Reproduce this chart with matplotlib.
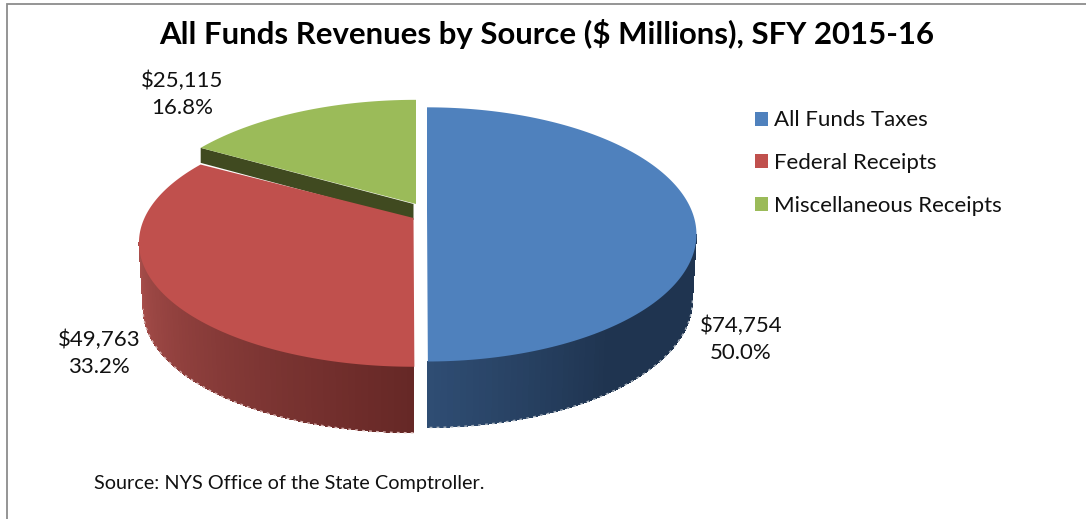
import numpy as np
import matplotlib
matplotlib.use('Agg')
import matplotlib.pyplot as plt
from matplotlib.colors import to_rgb
from matplotlib.patches import Patch

plt.rcParams['font.family']=['Lato','DejaVu Sans']

categories=['All Funds Taxes','Federal Receipts','Miscellaneous Receipts']
revenues=[74754,49763,25115]
percents=[50.0,33.2,16.8]
colors=['#4F81BD','#C0504D','#9BBB59']

# pixel layout: the slices are pulled apart, so each has its own apex/size
k=0.2
apex=[(427,209),(413.5,218),(416,204)]
size=[(264,122),(269,119),(272,125)]
rim_depth=66
rim_from=['#2F4D73','#A84E4B',None]
rim_to=['#1F3450','#662826',None]
rim_edge=['#A9B3BE','#D8B4B2',None]
label_xy=[(741,339),(99,353),(182,94)]

def project(theta,ap,sz,shrink=1.0,drop=0):
    # perspective view of a unit circle, apex stays at ap
    u,v=np.cos(theta),np.sin(theta)
    d=1+k*v
    return ap[0]+shrink*sz[0]*u/d, ap[1]-sz[1]*v/d+drop

fig,ax=plt.subplots(figsize=(10.86,5.19),dpi=100)
ax.set_position([0,0,1,1])
ax.set_xlim(0,1086); ax.set_ylim(519,0)
ax.axis('off')

edges=np.pi/2-2*np.pi*np.concatenate([[0],np.cumsum(revenues)])/np.sum(revenues)
turn=np.arcsin(-k)   # where the outline turns to the back

# cut face of the green slice shows above the red one
gx,gy=project(np.array([edges[2]]),apex[2],size[2])
ax.fill([gx[0],apex[1][0],apex[1][0],gx[0]],[gy[0],apex[2][1],apex[1][1]+2,gy[0]+15],
        color='#404A20',lw=0,zorder=1)

for i in range(3):
    a,b=edges[i],edges[i+1]
    # rim, only the part facing the viewer
    if rim_from[i] is not None:
        if i==0:
            t=np.linspace(turn,-np.pi/2,70)
        else:
            t=np.linspace(-np.pi/2,-np.pi-turn,70)
        c0,c1=np.array(to_rgb(rim_from[i])),np.array(to_rgb(rim_to[i]))
        for j in range(len(t)-1):
            seg=np.linspace(t[j],t[j+1],3)
            x1,y1=project(seg,apex[i],size[i])
            x2,y2=project(seg[::-1],apex[i],size[i],0.985,rim_depth)
            if i==0:
                f=1-min(1,(len(t)-2-j)/30)
            else:
                f=j/(len(t)-2)
            col=c1+(c0-c1)*f
            ax.fill(np.r_[x1,x2],np.r_[y1,y2],color=col,lw=0,antialiased=False,zorder=2)
        xe,ye=project(t,apex[i],size[i],0.985,rim_depth)
        ax.plot(xe,ye,color=rim_edge[i],lw=1,ls=(0,(2,3)),zorder=2)
    # top face
    t=np.linspace(a,b,200)
    x,y=project(t,apex[i],size[i])
    ax.fill(np.r_[apex[i][0],x],np.r_[apex[i][1],y],color=colors[i],lw=0,zorder=3)
    ax.text(label_xy[i][0],label_xy[i][1],f'${revenues[i]:,}\n{percents[i]:.1f}%',
            ha='center',va='center',fontsize=16,linespacing=1.45,color='#111111',zorder=5)

ax.plot([6.5,6.5,1086],[519,3.5,3.5],color='#8C8C8C',lw=1.3,solid_joinstyle='miter',clip_on=False)

ax.text(547,34,'All Funds Revenues by Source (\\$ Millions), SFY 2015-16',ha='center',va='center',
        fontsize=22.4,fontweight='bold',color='black')
ax.text(94,483.5,'Source: NYS Office of the State Comptroller.',ha='left',va='center',fontsize=14.3,color='#111111')

handles=[Patch(facecolor=c,edgecolor='none',label=n) for c,n in zip(colors,categories)]
ax.legend(handles=handles,loc='upper left',bbox_to_anchor=(755,110.5),bbox_transform=ax.transData,
          frameon=False,fontsize=16,handlelength=0.59,handleheight=0.59,handletextpad=0.28,
          labelspacing=1.02,borderpad=0,borderaxespad=0,labelcolor='#111111')

plt.savefig('out.png',dpi=100)
